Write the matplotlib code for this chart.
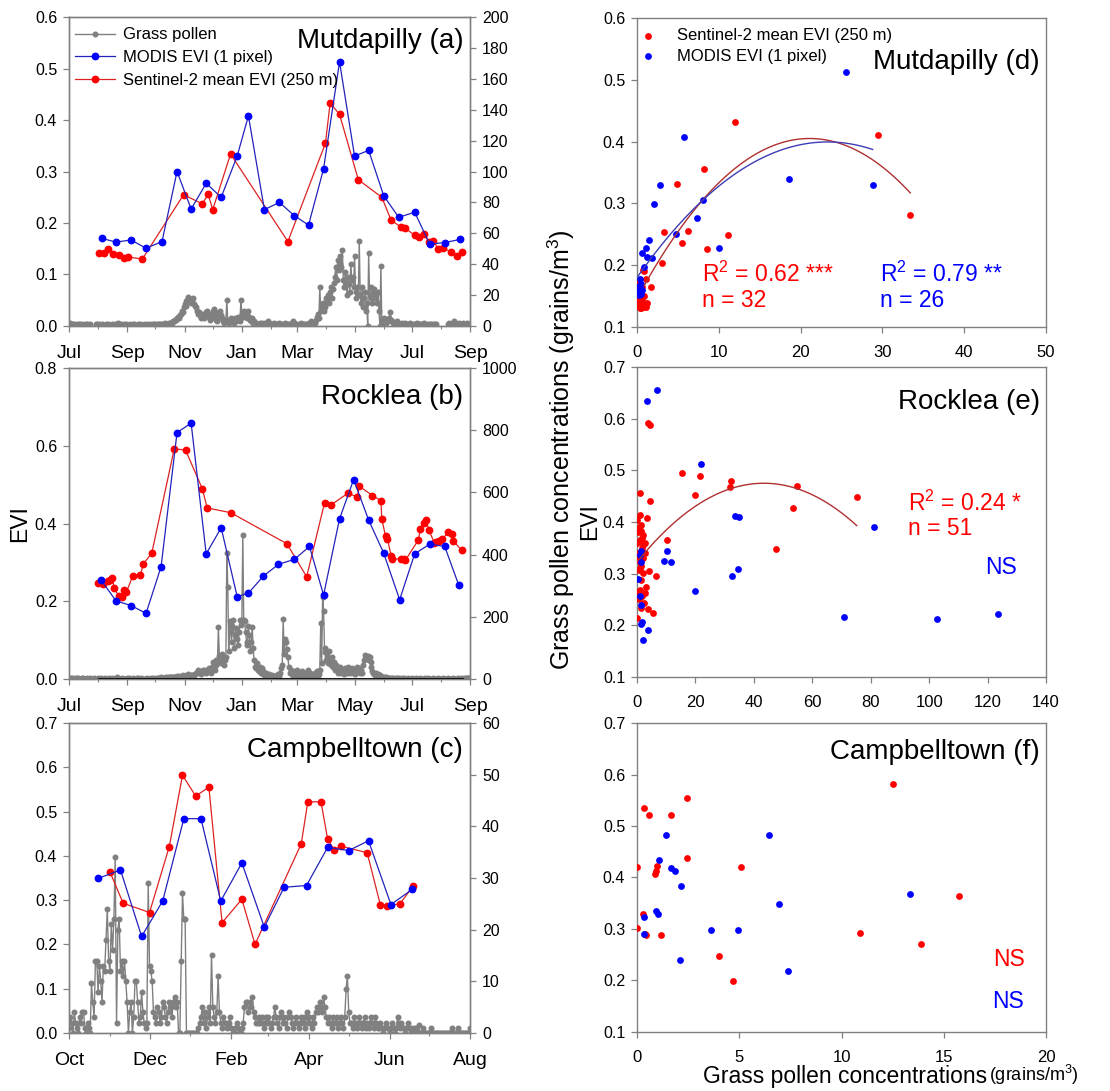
"""EVI time series and EVI-pollen scatter panels for three grass pollen sites."""

import matplotlib

matplotlib.use("Agg")
import matplotlib.dates as mdates
import matplotlib.pyplot as plt
import numpy as np
import pandas as pd
from matplotlib.lines import Line2D
from matplotlib.ticker import FormatStrFormatter

plt.rcParams["font.family"] = ["Liberation Sans", "DejaVu Sans"]
plt.rcParams["mathtext.fontset"] = "custom"
plt.rcParams["mathtext.rm"] = "Liberation Sans"
plt.rcParams["mathtext.default"] = "regular"

GREY = "#808080"
BLUE = "#0000ff"
RED = "#ff0000"
BLUE_LINE = "#2222bb"
RED_LINE = "#dd2222"
RED_FIT = "#b03030"
BLUE_FIT = "#3c3cb4"

# ---------------------------------------------------------------- Mutdapilly
modis_a_dates = ["2016-08-05", "2016-08-20", "2016-09-05", "2016-09-21", "2016-10-08",
                 "2016-10-24", "2016-11-08", "2016-11-24", "2016-12-10", "2016-12-27",
                 "2017-01-08", "2017-01-25", "2017-02-10", "2017-02-26", "2017-03-13",
                 "2017-03-29", "2017-04-15", "2017-05-01", "2017-05-16", "2017-06-01",
                 "2017-06-17", "2017-07-04", "2017-07-20", "2017-08-05", "2017-08-21"]
modis_a_evi = [0.170, 0.163, 0.167, 0.151, 0.164, 0.300, 0.227, 0.277, 0.250, 0.330,
               0.408, 0.226, 0.240, 0.214, 0.196, 0.305, 0.513, 0.330, 0.341, 0.253,
               0.211, 0.221, 0.159, 0.162, 0.168]
s2_a_dates = ["2016-08-02", "2016-08-07", "2016-08-12", "2016-08-17", "2016-08-23",
              "2016-08-28", "2016-09-02", "2016-09-17", "2016-10-31", "2016-11-20",
              "2016-11-26", "2016-12-01", "2016-12-20", "2017-02-19", "2017-03-31",
              "2017-04-05", "2017-04-15", "2017-05-05", "2017-05-30", "2017-06-09",
              "2017-06-19", "2017-06-24", "2017-07-04", "2017-07-09", "2017-07-14",
              "2017-07-19", "2017-07-24", "2017-07-29", "2017-08-03", "2017-08-12",
              "2017-08-18", "2017-08-23"]
s2_a_evi = [0.141, 0.141, 0.149, 0.139, 0.137, 0.132, 0.134, 0.130, 0.255, 0.237,
            0.256, 0.226, 0.334, 0.164, 0.355, 0.433, 0.411, 0.284, 0.250, 0.205,
            0.193, 0.190, 0.176, 0.172, 0.178, 0.164, 0.165, 0.150, 0.151, 0.144,
            0.135, 0.144]
pollen_a = [
    ("2016-07-01", [1, 2, 1, 0, 1, 1, 0, 0, 1, 0, 0, 1, 1, 0, 0, 1, 0, 0, 1, 1, 0, 0, 1]),
    ("2016-07-30", [1, 1, 0, 1, 0, 0, 1, 0, 0, 0, 1, 0, 0, 1, 0, 0, 0, 1, 0, 0,
                    1, 0, 1, 2, 1, 0, 1, 0, 0, 1]),
    ("2016-08-29", [0, 0, 1, 0, 0, 0, 1, 0, 0, 1, 1, 0, 0, 0, 1, 0, 0, 1, 0, 0,
                    0, 1, 0, 0, 1, 0, 0, 1, 0, 0]),
    ("2016-09-28", [1, 1, 0, 0, 1, 0, 1, 1, 0, 1, 1, 0, 1, 2, 1, 0, 1, 2, 1, 2, 1, 2, 3]),
    ("2016-10-21", [3, 4, 4, 5, 6, 5, 7, 8, 10, 9, 12, 14, 13, 16, 17, 19, 18, 17, 15, 16,
                    18, 14, 13, 12, 10, 8, 9, 7, 6, 5]),
    ("2016-11-20", [8, 6, 5, 7, 9, 10, 8, 6, 4, 5, 7, 10, 11, 9, 6, 4, 3, 5, 8, 10,
                    7, 5, 3, 2, 4, 3, 17, 3, 2, 4, 5, 3]),
    ("2016-12-22", [3, 4, 2, 5, 3, 4, 6, 5, 3, 17, 8, 6, 10, 9, 7, 5, 8, 10, 6, 4,
                    3, 5, 2, 3, 1, 2, 1, 0, 1, 2]),
    ("2017-01-21", [1, 2, 1, 0, 1, 2, 1, 1, 3, 2, 1, 0, 1, 1, 2, 0, 1, 1, 0, 1,
                    2, 1, 1, 0, 0, 1, 2, 1, 1, 0, 1, 1, 0, 2, 3, 2, 1, 1, 0, 1,
                    0, 0, 1, 2, 1, 0, 1, 1, 0, 1, 0, 1, 2, 1, 3, 2, 1, 2]),
    ("2017-03-20", [2, 4, 6, 8, 5, 25, 10, 12, 15, 10, 14, 12, 18, 16, 20, 15, 22, 25, 18, 24,
                    28, 32, 38, 30, 43, 36, 40, 45, 38, 49, 30, 25, 35, 28, 20, 32, 27, 22, 40, 30,
                    32, 25, 45, 22, 18, 25, 20, 55, 20, 15, 25, 12, 18, 22, 10, 15, 0, 47, 20, 18,
                    25, 15, 22, 24, 18, 20, 15, 22, 10, 0, 39, 3, 2, 5, 4, 3, 2, 4, 3, 5,
                    9, 4, 3, 2]),
    ("2017-06-12", [2, 1, 1, 3, 2, 1, 0, 1, 2, 1, 1, 0, 2, 1, 1, 0, 1, 2, 1, 0,
                    0, 1, 1, 0, 2, 1, 0, 0, 1, 1, 0, 1, 2, 1, 0, 0, 1, 0, 1, 1,
                    0, 0, 1, 0, 1, 1]),
    ("2017-08-09", [1, 2, 1, 0, 1, 2, 3, 1, 0, 1, 1, 2, 1, 0, 1, 2, 1, 1, 0, 1, 2, 1, 0, 1]),
]

# ------------------------------------------------------------------ Rocklea
modis_b_dates = ["2016-08-04", "2016-08-20", "2016-09-05", "2016-09-21", "2016-10-07",
                 "2016-10-24", "2016-11-08", "2016-11-24", "2016-12-10", "2016-12-27",
                 "2017-01-08", "2017-01-24", "2017-02-09", "2017-02-26", "2017-03-14",
                 "2017-03-29", "2017-04-15", "2017-04-30", "2017-05-16", "2017-06-01",
                 "2017-06-18", "2017-07-04", "2017-07-20", "2017-08-05", "2017-08-20"]
modis_b_evi = [0.255, 0.201, 0.189, 0.169, 0.289, 0.634, 0.658, 0.322, 0.389, 0.212,
               0.221, 0.265, 0.295, 0.308, 0.341, 0.216, 0.412, 0.513, 0.409, 0.324,
               0.204, 0.322, 0.347, 0.341, 0.241]
s2_b_dates = ["2016-08-01", "2016-08-06", "2016-08-11", "2016-08-14", "2016-08-16",
              "2016-08-18", "2016-08-23", "2016-08-26", "2016-08-28", "2016-08-31",
              "2016-09-07", "2016-09-15", "2016-09-18", "2016-09-27", "2016-10-21",
              "2016-11-02", "2016-11-20", "2016-11-25", "2016-12-20", "2017-02-18",
              "2017-03-11", "2017-03-30", "2017-04-06", "2017-04-24", "2017-05-04",
              "2017-05-06", "2017-05-20", "2017-05-29", "2017-05-30", "2017-06-03",
              "2017-06-05", "2017-06-09", "2017-06-10", "2017-06-19", "2017-06-23",
              "2017-06-24", "2017-07-08", "2017-07-10", "2017-07-14", "2017-07-16",
              "2017-07-19", "2017-07-25", "2017-07-27", "2017-07-30", "2017-08-02",
              "2017-08-09", "2017-08-13", "2017-08-14", "2017-08-23"]
s2_b_evi = [0.246, 0.244, 0.251, 0.254, 0.259, 0.234, 0.213, 0.210, 0.229, 0.223,
            0.266, 0.267, 0.296, 0.323, 0.592, 0.589, 0.489, 0.440, 0.428, 0.348,
            0.263, 0.453, 0.448, 0.478, 0.468, 0.496, 0.472, 0.459, 0.412, 0.367,
            0.361, 0.316, 0.309, 0.309, 0.309, 0.305, 0.358, 0.386, 0.402, 0.410,
            0.384, 0.350, 0.353, 0.355, 0.359, 0.378, 0.372, 0.356, 0.331]
# second trap record, zero throughout the Sentinel period
zero_b_dates = ["2016-08-02", "2017-08-23"]
zero_b_vals = [0, 0]
pollen_b = [
    ("2016-07-01", [2, 1, 3, 2, 1, 0, 2, 1, 3, 1, 2, 1, 0, 1, 2, 3, 1, 0, 1, 2,
                    1, 0, 2, 1, 1, 0, 1, 2, 0, 1, 1, 2, 0, 1, 3, 1, 0, 1, 2, 1,
                    0, 1, 1, 2, 0, 1, 2, 1, 0, 1, 3, 6, 2, 1, 0, 1, 2, 1, 0, 1,
                    1, 0, 2, 1, 3, 1, 0, 1, 2, 1, 0, 1, 2, 4, 1, 0, 1, 2, 1, 0,
                    1, 1, 0, 2, 1, 0, 1, 3, 1, 2, 1, 0, 1, 2, 1, 4, 2, 3, 5, 2,
                    3, 4, 2, 5]),
    ("2016-10-13", [4, 6, 3, 5, 7, 4, 6, 8, 5, 7, 6, 9, 8, 10, 6, 8, 10, 12, 8, 6,
                    10, 9, 12, 15, 10, 8, 12, 14, 10, 12, 15, 18]),
    ("2016-11-14", [20, 28, 25, 18, 22, 15, 20, 30, 25, 28, 18, 22, 30, 35, 25, 20, 40, 55, 35, 30,
                    45, 60, 50]),
    ("2016-12-07", [166, 75, 60, 50, 80, 70, 45, 60, 70, 405, 297, 90, 185, 150, 120, 170, 190, 100,
                    140, 165, 130, 110, 150, 190, 175, 190, 464, 190, 185, 150, 120, 110, 170, 140,
                    90, 120, 168, 100, 60, 40, 35, 50]),
    ("2017-01-18", [30, 25, 40, 20, 35, 15, 25, 18, 10, 20, 12, 8, 15, 10, 6, 12, 8, 5, 10, 7,
                    12, 8, 15, 10, 20, 35, 45]),
    ("2017-02-14", [192, 80, 130, 120, 95, 70, 40]),
    ("2017-02-21", [20, 30, 15, 10, 25, 12, 8, 18, 30, 20, 10, 15, 8, 25, 12, 20, 10, 6, 15, 30,
                    12, 8, 20, 10, 5, 15, 8, 20, 12, 25, 10, 15, 30]),
    ("2017-03-26", [181, 50, 265, 220, 100, 87, 60, 75, 50, 90, 60, 45, 70, 40, 55, 30, 45]),
    ("2017-04-12", [30, 20, 35, 25, 40, 18, 30, 22, 15, 35, 25, 20, 40, 30, 18, 25, 35, 20, 28, 15,
                    30, 22, 40, 25, 35, 18, 30, 20, 45, 60, 76, 70, 65, 75, 60, 72, 55, 40, 25]),
    ("2017-05-21", [20, 15, 12, 18, 10, 15, 8, 12, 5, 8, 6, 4, 5, 3, 6, 4, 2]),
    ("2017-06-07", [3, 2, 1, 4, 2, 1, 0, 2, 3, 1, 2, 1, 0, 1, 2, 1, 3, 1, 0, 1,
                    2, 1, 1, 0, 2, 1, 0, 1, 2, 1, 1, 0, 1, 2, 1, 0, 1, 1, 2, 0,
                    1, 2, 1, 0, 1, 1, 0, 2, 1, 0, 1, 1, 2, 1, 0, 1, 0, 2, 1, 1,
                    0, 1, 2, 1, 0, 1, 1, 0, 2, 1, 0, 1, 1, 2, 0, 1, 2, 1, 0, 1,
                    2, 1, 3, 2, 4, 2, 1]),
]

# ------------------------------------------------------------- Campbelltown
modis_c_dates = ["2016-10-23", "2016-11-09", "2016-11-25", "2016-12-11", "2016-12-27",
                 "2017-01-09", "2017-01-24", "2017-02-09", "2017-02-26", "2017-03-13",
                 "2017-03-30", "2017-04-15", "2017-05-01", "2017-05-16", "2017-06-02",
                 "2017-06-18"]
modis_c_evi = [0.349, 0.368, 0.218, 0.298, 0.484, 0.484, 0.298, 0.384, 0.239, 0.329,
               0.333, 0.419, 0.412, 0.434, 0.290, 0.324]
s2_c_dates = ["2016-11-01", "2016-11-11", "2016-12-01", "2016-12-16", "2016-12-26",
              "2017-01-05", "2017-01-15", "2017-01-25", "2017-02-09", "2017-02-19",
              "2017-03-26", "2017-03-31", "2017-04-10", "2017-04-15", "2017-04-20",
              "2017-04-25", "2017-05-15", "2017-05-25", "2017-05-30", "2017-06-09",
              "2017-06-19"]
s2_c_evi = [0.364, 0.293, 0.272, 0.421, 0.582, 0.535, 0.555, 0.249, 0.302, 0.200,
            0.427, 0.522, 0.522, 0.438, 0.413, 0.422, 0.407, 0.289, 0.287, 0.292,
            0.333]
pollen_c = [
    ("2016-10-01", [1, 3, 2, 0, 4, 2, 1, 0, 3, 2, 4, 4, 1, 0, 2, 1, 0]),
    ("2016-10-18", [9.6, 6, 3, 14, 14, 8, 13, 10, 6, 13, 12, 18]),
    ("2016-10-30", [24, 14, 12, 21, 16, 22, 34, 2, 20, 22, 12, 14, 11, 14, 10, 6]),
    ("2016-11-15", [0, 4, 6, 0, 3, 10, 10, 6, 2, 3, 8, 4, 2, 1, 2]),
    ("2016-11-30", [29, 13, 12, 10, 4]),
    ("2016-12-05", [3, 2, 5, 4, 2, 3, 6, 5, 3, 2, 4, 6, 5, 3]),
    ("2016-12-19", [6, 7, 5, 6, 0, 0, 14, 27, 22, 22]),
    ("2016-12-29", [0, 0, 0, 0, 0, 0, 0, 0, 0]),
    ("2017-01-07", [1, 2, 3, 5, 2, 4, 1, 3, 5, 2, 15, 5, 3, 2, 4, 11]),
    ("2017-01-23", [4, 2, 1, 3, 2, 2, 1, 2, 3, 1, 0, 0, 1, 2, 1, 0, 0, 1, 2]),
    ("2017-02-11", [5, 6, 6, 4, 6, 5, 7, 4, 3, 2]),
    ("2017-02-21", [2, 3, 2, 3, 2, 1, 3, 2, 3, 2, 1, 2, 3, 5, 3, 2, 1, 3, 4, 2,
                    3, 2, 1, 3, 4, 3, 2, 1, 2, 3, 2, 1, 2, 3, 2, 3, 1, 4, 2, 3,
                    2, 1, 3, 2, 4, 5, 4, 6, 5, 4]),
    ("2017-04-12", [7, 5, 3, 2, 3, 2, 1, 3, 2, 2, 3, 1, 2, 3, 2, 1, 3, 8.5, 11, 4, 2]),
    ("2017-05-03", [2, 1, 3, 2, 1, 2, 3, 2, 1, 2, 3, 1, 2, 1, 2, 3, 2, 1, 3, 2,
                    1, 1, 2, 1, 0, 1, 2, 1, 1, 0, 1, 2, 1, 0, 1, 3, 2]),
    ("2017-06-09", [1, 2, 1, 1, 0, 1, 2, 1, 0, 1, 0, 1, 1, 0, 1.5, 0, 0, 1, 0, 0,
                    0, 0, 0, 1, 0, 0, 0, 0, 0, 0, 0, 0, 0, 0, 0, 0, 0, 0, 0, 1,
                    0, 0, 0, 0, 1, 0, 0, 0, 0, 0, 0, 0, 0, 1]),
]

# ------------------------------------------------- scatter: pollen vs EVI
s2_d_pollen = [11.96, 29.5, 8.24, 4.9, 33.4, 3.3, 6.2, 5.5, 11.1, 8.5, 3.0, 1.76, 0.86, 1.06,
               0.7, 0.04, 0.33, 0.73, 1.06, 0.53, 0.0, 0.16, 0.65, 0.33, 0.45, 0.9, 0.2, 0.6,
               1.2, 0.1, 0.4, 0.8]
s2_d_evi = [0.431, 0.410, 0.355, 0.332, 0.282, 0.254, 0.255, 0.236, 0.249, 0.226, 0.204, 0.164,
            0.190, 0.177, 0.193, 0.173, 0.140, 0.135, 0.133, 0.130, 0.143, 0.135, 0.165, 0.154,
            0.137, 0.132, 0.148, 0.144, 0.139, 0.137, 0.131, 0.150]
modis_d_pollen = [25.6, 5.7, 18.6, 28.8, 2.78, 2.04, 8.04, 7.27, 4.8, 10.0, 1.43, 1.14, 0.65,
                  1.22, 1.8, 0.86, 0.33, 0.24, 0.53, 0.12, 0.4, 0.2, 0.04, 0.65, 0.5, 0.16]
modis_d_evi = [0.513, 0.407, 0.340, 0.329, 0.329, 0.299, 0.306, 0.276, 0.251, 0.227, 0.240,
               0.227, 0.219, 0.213, 0.211, 0.197, 0.178, 0.167, 0.170, 0.160, 0.157, 0.151,
               0.159, 0.160, 0.154, 0.165]

s2_e_pollen = [3.77, 4.3, 15.5, 19.8, 21.5, 32.3, 31.8, 54.6, 53.3, 75.2, 47.5, 10.1, 0.9, 4.3,
               3.5, 0.9, 0.0, 0.46, 1.37, 2.0, 0.9, 2.6, 0.1, 1.8, 0.7, 1.5, 0.7, 4.0, 6.4, 2.0,
               0.9, 0.1, 2.6, 1.8, 2.4, 1.3, 3.9, 5.3, 0.0, 1.5, 0.46, 1.1, 2.0, 3.0, 0.7, 1.7,
               2.7, 1.2, 2.2, 0.3, 1.0]
s2_e_evi = [0.591, 0.587, 0.494, 0.452, 0.489, 0.479, 0.467, 0.470, 0.428, 0.448, 0.348, 0.365,
            0.457, 0.441, 0.408, 0.414, 0.404, 0.388, 0.383, 0.375, 0.365, 0.360, 0.359, 0.349,
            0.333, 0.314, 0.307, 0.305, 0.296, 0.301, 0.269, 0.264, 0.262, 0.256, 0.244, 0.233,
            0.231, 0.224, 0.214, 0.288, 0.340, 0.323, 0.330, 0.275, 0.250, 0.369, 0.340, 0.395,
            0.355, 0.380, 0.310]
modis_e_pollen = [3.5, 7.0, 21.8, 33.7, 34.9, 81.1, 10.1, 9.3, 11.5, 34.6, 32.5, 20.0, 71.0,
                  102.6, 123.5, 1.3, 1.0, 1.5, 0.46, 1.1, 1.3, 1.4, 1.8, 3.8, 2.1]
modis_e_evi = [0.634, 0.656, 0.513, 0.412, 0.410, 0.390, 0.343, 0.325, 0.322, 0.309, 0.296,
               0.266, 0.217, 0.213, 0.222, 0.344, 0.336, 0.322, 0.289, 0.256, 0.240, 0.203,
               0.206, 0.190, 0.171]

s2_f_pollen = [0.33, 0.59, 2.45, 1.68, 0.02, 2.45, 5.06, 0.98, 0.95, 0.88, 12.54, 15.76, 10.9,
               13.9, 0.02, 0.29, 0.46, 1.19, 4.0, 4.67, 0.38]
s2_f_evi = [0.535, 0.521, 0.554, 0.521, 0.420, 0.438, 0.420, 0.423, 0.413, 0.406, 0.582, 0.364,
            0.293, 0.270, 0.302, 0.329, 0.289, 0.288, 0.248, 0.199, 0.290]
modis_f_pollen = [1.42, 6.43, 1.06, 1.65, 1.88, 2.14, 13.34, 6.92, 0.91, 1.03, 0.36, 0.36, 3.62,
                  4.96, 2.12, 7.38]
modis_f_evi = [0.483, 0.483, 0.433, 0.419, 0.412, 0.384, 0.368, 0.348, 0.334, 0.329, 0.324,
               0.290, 0.298, 0.298, 0.239, 0.218]

# quadratic fits (a, b, c of a*x^2 + b*x + c) and the pollen range they cover
fit_d_s2 = [-0.000582, 0.02456, 0.1459]
fit_d_s2_range = [0.9, 33.4]
fit_d_modis = [-0.000404, 0.01883, 0.180]
fit_d_modis_range = [0.1, 28.8]
fit_e_s2 = [-0.0000811, 0.00704, 0.3222]
fit_e_s2_range = [0.9, 75.2]

LEGEND_S2 = "Sentinel-2 mean EVI (250 m)"
LEGEND_MODIS = "MODIS EVI (1 pixel)"
LEGEND_POLLEN = "Grass pollen"

TITLE_SIZE = 20
NOTE_SIZE = 16.5
LABEL_SIZE = 16.5


def pollen_series(chunks):
    """Join daily pollen chunks, leaving a break where days are missing."""

    dates, values = [], []
    for start, vals in chunks:
        idx = pd.date_range(start, periods=len(vals), freq="D")
        if dates and (idx[0] - dates[-1]).days > 2:
            dates.append(dates[-1] + pd.Timedelta(days=1))
            values.append(np.nan)
        dates.extend(idx)
        values.extend(vals)
    return pd.Series(values, index=pd.DatetimeIndex(dates))


def style_axis(ax, xsize=12, xpad=9):
    for spine in ax.spines.values():
        spine.set_color(GREY)
        spine.set_linewidth(1.0)
    ax.tick_params(which="major", direction="out", length=4, width=0.9, color=GREY,
                   labelsize=11.5, pad=4.5)
    ax.tick_params(axis="x", which="major", labelsize=xsize, pad=xpad)
    ax.tick_params(which="minor", direction="out", length=2, width=0.8, color=GREY)


def draw_timeseries(ax, pollen, modis_d, modis_v, s2_d, s2_v, ylim, ystep, pmax, pstep,
                    xlim, months, title, title_y):
    tw = ax.twinx()
    series = pollen_series(pollen)
    tw.plot(series.index, series.values, color=GREY, lw=1.0, marker="o", ms=3.3, mec=GREY,
            mfc=GREY)
    tw.set_ylim(0, pmax)
    tw.set_yticks(np.arange(0, pmax + 1, pstep))
    ax.set_zorder(tw.get_zorder() + 1)
    ax.patch.set_visible(False)

    ax.plot(pd.to_datetime(s2_d), s2_v, color=RED_LINE, lw=0.9, marker="o", ms=4.6, mfc=RED,
            mec=RED)
    ax.plot(pd.to_datetime(modis_d), modis_v, color=BLUE_LINE, lw=0.9, marker="o", ms=4.6,
            mfc=BLUE, mec=BLUE)
    ax.set_ylim(0, ylim)
    ax.set_yticks(np.arange(0, ylim + 1e-9, ystep))
    ax.yaxis.set_major_formatter(FormatStrFormatter("%.1f"))
    ax.set_xlim(pd.Timestamp(xlim[0]), pd.Timestamp(xlim[1]))
    ax.xaxis.set_major_locator(mdates.MonthLocator(bymonth=months))
    ax.xaxis.set_minor_locator(mdates.MonthLocator())
    ax.xaxis.set_major_formatter(mdates.DateFormatter("%b"))
    style_axis(ax, xsize=14, xpad=10)
    style_axis(tw, xsize=14, xpad=10)
    ax.text(0.983, title_y, title, transform=ax.transAxes, ha="right", va="center",
            fontsize=TITLE_SIZE)
    return tw


def draw_scatter(ax, s2_x, s2_y, modis_x, modis_y, xmax, xstep, ymax, title, title_y):
    ax.scatter(s2_x, s2_y, s=24, color=RED, linewidths=0, zorder=3, label=LEGEND_S2)
    ax.scatter(modis_x, modis_y, s=24, color=BLUE, linewidths=0, zorder=4, label=LEGEND_MODIS)
    ax.set_xlim(0, xmax)
    ax.set_xticks(np.arange(0, xmax + 1, xstep))
    ax.set_ylim(0.1, ymax)
    ax.set_yticks(np.arange(0.1, ymax + 1e-9, 0.1))
    ax.yaxis.set_major_formatter(FormatStrFormatter("%.1f"))
    style_axis(ax, xsize=12, xpad=9)
    ax.text(0.985, title_y, title, transform=ax.transAxes, ha="right", va="center",
            fontsize=TITLE_SIZE)


def draw_fit(ax, coef, xr, color):
    xs = np.linspace(xr[0], xr[1], 120)
    ax.plot(xs, np.polyval(coef, xs), color=color, lw=1.0, zorder=5)


fig = plt.figure(figsize=(11.1, 10.91), dpi=100)

ax_a = fig.add_axes([0.0622, 0.7012, 0.3613, 0.2832])
ax_b = fig.add_axes([0.0622, 0.3776, 0.3613, 0.2851])
ax_c = fig.add_axes([0.0622, 0.0532, 0.3613, 0.2841])
ax_d = fig.add_axes([0.5739, 0.7003, 0.3685, 0.2832])
ax_e = fig.add_axes([0.5739, 0.3795, 0.3685, 0.2841])
ax_f = fig.add_axes([0.5739, 0.0541, 0.3685, 0.2832])

year_months = [1, 3, 5, 7, 9, 11]
draw_timeseries(ax_a, pollen_a, modis_a_dates, modis_a_evi, s2_a_dates, s2_a_evi,
                0.6, 0.1, 200, 20, ("2016-07-01", "2017-09-01"), year_months,
                "Mutdapilly (a)", 0.922)
draw_timeseries(ax_b, pollen_b, modis_b_dates, modis_b_evi, s2_b_dates, s2_b_evi,
                0.8, 0.2, 1000, 200, ("2016-07-01", "2017-09-01"), year_months,
                "Rocklea (b)", 0.907)
ax_b.plot(pd.to_datetime(zero_b_dates), zero_b_vals, color="black", lw=2.2, zorder=2)
draw_timeseries(ax_c, pollen_c, modis_c_dates, modis_c_evi, s2_c_dates, s2_c_evi,
                0.7, 0.1, 60, 10, ("2016-10-01", "2017-08-01"), [2, 4, 6, 8, 10, 12],
                "Campbelltown (c)", 0.913)

ax_b.set_ylabel("EVI", fontsize=LABEL_SIZE)
ax_b.yaxis.set_label_coords(-0.095, 0.5)
fig.text(561 / 1110, 1 - 450 / 1091, "Grass pollen concentrations (grains/m$^3$)",
         rotation=90, ha="center", va="center", fontsize=18)

ts_handles = [
    Line2D([], [], color=GREY, lw=1.0, marker="o", ms=3.3),
    Line2D([], [], color=BLUE_LINE, lw=0.9, marker="o", ms=4.6, mfc=BLUE, mec=BLUE),
    Line2D([], [], color=RED_LINE, lw=0.9, marker="o", ms=4.6, mfc=RED, mec=RED),
]
ax_a.legend(ts_handles, [LEGEND_POLLEN, LEGEND_MODIS, LEGEND_S2], loc="upper left",
            bbox_to_anchor=(0, 0.985), frameon=False, fontsize=12, handlelength=2.4,
            handletextpad=0.48, labelspacing=0.47, borderaxespad=0.2, borderpad=0.15)

draw_scatter(ax_d, s2_d_pollen, s2_d_evi, modis_d_pollen, modis_d_evi, 50, 10, 0.6,
             "Mutdapilly (d)", 0.858)
draw_fit(ax_d, fit_d_s2, fit_d_s2_range, RED_FIT)
draw_fit(ax_d, fit_d_modis, fit_d_modis_range, BLUE_FIT)
ax_d.legend(loc="upper left", bbox_to_anchor=(0, 0.98), frameon=False, fontsize=12,
            handlelength=0.8, handletextpad=1.34, labelspacing=0.33, borderaxespad=0.1,
            borderpad=0.15, scatterpoints=1)
ax_d.text(8.0, 0.186, "R$^2$ = 0.62 ***", color=RED, fontsize=NOTE_SIZE, va="center")
ax_d.text(8.0, 0.143, "n = 32", color=RED, fontsize=NOTE_SIZE, va="center")
ax_d.text(29.7, 0.186, "R$^2$ = 0.79 **", color=BLUE, fontsize=NOTE_SIZE, va="center")
ax_d.text(29.7, 0.143, "n = 26", color=BLUE, fontsize=NOTE_SIZE, va="center")

draw_scatter(ax_e, s2_e_pollen, s2_e_evi, modis_e_pollen, modis_e_evi, 140, 20, 0.7,
             "Rocklea (e)", 0.887)
draw_fit(ax_e, fit_e_s2, fit_e_s2_range, RED_FIT)
ax_e.set_ylabel("EVI", fontsize=LABEL_SIZE)
ax_e.yaxis.set_label_coords(-0.088, 0.5)
ax_e.text(92.9, 0.437, "R$^2$ = 0.24 *", color=RED, fontsize=NOTE_SIZE, va="center")
ax_e.text(92.9, 0.388, "n = 51", color=RED, fontsize=NOTE_SIZE, va="center")
ax_e.text(119.2, 0.311, "NS", color=BLUE, fontsize=NOTE_SIZE, va="center")

draw_scatter(ax_f, s2_f_pollen, s2_f_evi, modis_f_pollen, modis_f_evi, 20, 5, 0.7,
             "Campbelltown (f)", 0.906)
ax_f.text(17.4, 0.24, "NS", color=RED, fontsize=NOTE_SIZE, va="center")
ax_f.text(17.35, 0.159, "NS", color=BLUE, fontsize=NOTE_SIZE, va="center")

xlab = fig.text(703 / 1110, 1 - 1077 / 1091, "Grass pollen concentrations",
                fontsize=LABEL_SIZE, ha="left", va="center")
ax_f.annotate("(grains/m$^3$)", xy=(1, 0), xycoords=xlab, xytext=(1, 1),
              textcoords="offset points", ha="left", va="bottom", fontsize=13,
              annotation_clip=False)

fig.savefig("out.png", dpi=100)
